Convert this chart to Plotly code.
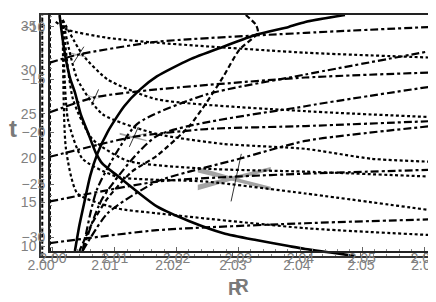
import plotly.graph_objects as go

# ---------------- data (R, t) ----------------
solid1_R = [2.0029, 2.0034, 2.0039, 2.0046, 2.0053, 2.0062, 2.0073, 2.0085, 2.0096, 2.0119, 2.0150, 2.0181, 2.0232, 2.0285, 2.0336, 2.0387, 2.0413, 2.0491]
solid1_t = [36.24, 33.42, 31.17, 28.92, 27.45, 24.98, 22.95, 20.70, 19.35, 18.00, 16.19, 14.50, 12.82, 11.46, 10.68, 10.00, 9.66, 8.87]
solid2_R = [2.0053, 2.0060, 2.0068, 2.0077, 2.0088, 2.0104, 2.0130, 2.0155, 2.0181, 2.0232, 2.0285, 2.0336, 2.0387, 2.0413, 2.0475]
solid2_t = [9.44, 12.36, 15.07, 18.00, 20.47, 22.95, 25.88, 27.79, 29.26, 31.17, 32.64, 33.99, 34.89, 35.45, 36.24]

dashed_R = [2.0060, 2.0080, 2.0104, 2.0142, 2.0181, 2.0232, 2.0259, 2.0285, 2.0310, 2.0339, 2.0336, 2.0320]
dashed_t = [9.44, 12.59, 15.41, 18.45, 20.25, 23.63, 26.33, 29.26, 32.30, 34.21, 35.11, 36.24]

# dash-dot lines starting at the left frame
e1_R = [2.0014, 2.0057, 2.0181, 2.0413, 2.0611]; e1_t = [30.83, 31.73, 33.20, 34.21, 34.89]
e2_R = [2.0014, 2.0084, 2.0181, 2.0413, 2.0611]; e2_t = [25.20, 26.89, 27.79, 29.14, 29.71]
e3_R = [2.0014, 2.0144, 2.0259, 2.0413, 2.0611]; e3_t = [20.14, 22.39, 23.29, 23.63, 24.19]
e4_R = [2.0014, 2.0181, 2.0302, 2.0413, 2.0611]; e4_t = [15.07, 17.32, 17.88, 18.22, 18.67]
e5_R = [2.0014, 2.0181, 2.0413, 2.0611];         e5_t = [10.34, 11.80, 12.59, 13.04]

# dash-dot fan rising from the lower left
f1_R = [2.0065, 2.0104, 2.0181, 2.0310, 2.0413, 2.0611]; f1_t = [9.44, 13.72, 17.32, 19.91, 21.94, 23.63]
f2_R = [2.0065, 2.0096, 2.0181, 2.0413, 2.0611];         f2_t = [9.44, 15.41, 22.50, 25.88, 28.13]
f3_R = [2.0065, 2.0088, 2.0150, 2.0259, 2.0413, 2.0611]; f3_t = [9.44, 16.53, 23.85, 27.23, 29.48, 32.18]

# dotted fan from the upper left
g1_R = [2.0023, 2.0042, 2.0104, 2.0181, 2.0413, 2.0611]; g1_t = [35.45, 34.55, 33.65, 33.09, 31.96, 31.40]
g2_R = [2.0034, 2.0065, 2.0104, 2.0181, 2.0413, 2.0611]; g2_t = [35.68, 31.73, 28.92, 26.67, 25.32, 24.64]
g3_R = [2.0034, 2.0057, 2.0096, 2.0181, 2.0285, 2.0413, 2.0517, 2.0611]; g3_t = [35.68, 28.92, 24.98, 22.73, 21.60, 21.04, 19.91, 19.57]
g4_R = [2.0034, 2.0050, 2.0080, 2.0135, 2.0259, 2.0413, 2.0611]; g4_t = [35.68, 26.67, 22.16, 19.68, 18.78, 18.45, 17.88]
g5_R = [2.0034, 2.0042, 2.0065, 2.0119, 2.0259, 2.0413, 2.0611]; g5_t = [35.68, 24.41, 19.91, 17.88, 17.32, 15.97, 14.05]
g6_R = [2.0034, 2.0039, 2.0057, 2.0119, 2.0181, 2.0413, 2.0611]; g6_t = [35.68, 21.04, 15.97, 14.28, 13.72, 12.03, 11.24]

# gray cross markers: centre, half width (R units), arrow start/end
mark_R = [2.0057, 2.0084, 2.0144, 2.0302]
mark_t = [31.73, 26.89, 22.39, 17.66]
mark_w = [0.0013, 0.0011, 0.0021, 0.0057]
arrow_R0 = [2.0051, 2.0079, 2.0138, 2.0297]; arrow_t0 = [30.83, 25.99, 21.26, 15.07]
arrow_R1 = [2.0067, 2.0090, 2.0152, 2.0313]; arrow_t1 = [32.64, 27.79, 23.51, 20.47]

# ticks
xA_ticks = [2.00, 2.01, 2.02, 2.03, 2.04, 2.05, 2.06]
xA_text = ["2.00", "2.01", "2.02", "2.03", "2.04", "2.05", "2.06"]
yA_ticks = [10, 15, 20, 25, 30, 35]
yB_ticks = [-10, -15, -20, -25, -30]

# ---------------- figure ----------------
fig = go.Figure()
DOT = "3px,2.5px"
DASHDOT = "8px,3px,3px,3px"

# gray cross markers
px_per_R = 6460.0
px_per_t = 8.88
for cR, ct, w in zip(mark_R, mark_t, mark_w):
    wp = w * px_per_R
    for sgn in (1, -1):
        u = [-1, 0, 1, 1, 0, -1, -1]
        v = [-0.32 * sgn, -0.03 * sgn, 0.22 * sgn, 0.32 * sgn, 0.07 * sgn, -0.17 * sgn, -0.32 * sgn]
        fig.add_trace(go.Scatter(
            x=[cR + ui * w for ui in u],
            y=[ct - vi * wp / px_per_t for vi in v],
            fill="toself", fillcolor="#a3a3a3", line=dict(width=0),
            mode="lines", hoverinfo="skip", showlegend=False))
for a, b, c, d in zip(arrow_R0, arrow_t0, arrow_R1, arrow_t1):
    fig.add_trace(go.Scatter(x=[a, c], y=[b, d], mode="lines",
                             line=dict(color="black", width=0.8), showlegend=False))

def add(xs, ys, dash, width=2.0):
    fig.add_trace(go.Scatter(x=xs, y=ys, mode="lines",
                             line=dict(color="black", width=width, dash=dash, shape="spline", smoothing=0.6),
                             showlegend=False, hoverinfo="skip"))

for xs, ys in [(g1_R, g1_t), (g2_R, g2_t), (g3_R, g3_t), (g4_R, g4_t), (g5_R, g5_t), (g6_R, g6_t)]:
    add(xs, ys, DOT, 2.2)
for xs, ys in [(e1_R, e1_t), (e2_R, e2_t), (e3_R, e3_t), (e4_R, e4_t), (e5_R, e5_t),
               (f1_R, f1_t), (f2_R, f2_t), (f3_R, f3_t)]:
    add(xs, ys, DASHDOT, 2.2)
add(dashed_R, dashed_t, "5px,3px", 2.2)
add(solid1_R, solid1_t, "solid", 2.6)
add(solid2_R, solid2_t, "solid", 2.6)

# near-vertical dashed edges
fig.add_trace(go.Scatter(x=[2.0002, 2.0002], y=[8.9, 36.2], mode="lines",
                         line=dict(color="black", width=2, dash="4px,2px"), showlegend=False))
fig.add_trace(go.Scatter(x=[2.0014, 2.0014], y=[9.4, 36.2], mode="lines",
                         line=dict(color="black", width=2, dash="4px,2px"), showlegend=False))

# invisible trace for the second frame
fig.add_trace(go.Scatter(x=[2.03], y=[-20], xaxis="x2", yaxis="y2", mode="markers",
                         marker=dict(opacity=0), showlegend=False, hoverinfo="skip"))

tickfont = dict(family="Liberation Sans, Arial", size=14, color="#808080")
frame = dict(showgrid=False, zeroline=False, showline=True, mirror=True, linewidth=1.5,
             ticks="inside", ticklen=4, tickcolor="#666")
labels_only = dict(showline=False, showgrid=False, zeroline=False, ticks="", tickfont=tickfont,
                   anchor="free", overlaying="x", side="bottom")
fig.update_layout(
    width=436, height=302,
    margin=dict(l=33, r=8, t=5, b=54),
    paper_bgcolor="white", plot_bgcolor="rgba(0,0,0,0)",
    xaxis=dict(range=[2.0, 2.0611], tickvals=xA_ticks, showticklabels=False, linecolor="#333",
               minor=dict(ticks="inside", ticklen=2, dtick=0.002, tickcolor="#888"), **frame),
    yaxis=dict(range=[8.87, 36.24], tickvals=yA_ticks, tickfont=tickfont, linecolor="#333",
               minor=dict(ticks="inside", ticklen=2, dtick=1, tickcolor="#888"), **frame),
    xaxis2=dict(domain=[0.0228, 1], anchor="y2", range=[1.99952, 2.06128], tickvals=xA_ticks,
                showticklabels=False, linecolor="#222",
                minor=dict(ticks="inside", ticklen=2, dtick=0.002, tickcolor="#888"), **frame),
    yaxis2=dict(domain=[0.0206, 1], anchor="x2", range=[-31.32, -8.87], tickvals=yB_ticks,
                tickfont=tickfont, linecolor="#222",
                minor=dict(ticks="inside", ticklen=2, dtick=1, tickcolor="#888"), **frame),
    # label-only axes (placed slightly above the frame lines)
    xaxis3=dict(position=0.004, range=[2.0, 2.0611], tickvals=xA_ticks, ticktext=xA_text, **labels_only),
    xaxis4=dict(position=0.033, range=[1.99808, 2.06128], tickvals=xA_ticks, ticktext=xA_text, **labels_only),
    annotations=[
        dict(text="<b>t</b>", xref="paper", yref="paper", x=-0.072, y=0.53, xanchor="center", yanchor="middle",
             showarrow=False, font=dict(family="Liberation Sans, Arial", size=24, color="#7a7a7a")),
        dict(text="R", xref="paper", yref="paper", x=0.496, y=-0.136, xanchor="center", yanchor="middle",
             showarrow=False, font=dict(family="Liberation Sans, Arial", size=19, color="#7a7a7a", weight="bold")),
        dict(text="R", xref="paper", yref="paper", x=0.514, y=-0.123, xanchor="center", yanchor="middle",
             showarrow=False, font=dict(family="Liberation Sans, Arial", size=19, color="#7a7a7a", weight="bold")),
    ],
)
fig.add_trace(go.Scatter(x=[2.03], y=[20], xaxis="x3", yaxis="y", mode="markers",
                         marker=dict(opacity=0), showlegend=False, hoverinfo="skip"))
fig.add_trace(go.Scatter(x=[2.03], y=[20], xaxis="x4", yaxis="y", mode="markers",
                         marker=dict(opacity=0), showlegend=False, hoverinfo="skip"))
fig.write_html("out.html")
